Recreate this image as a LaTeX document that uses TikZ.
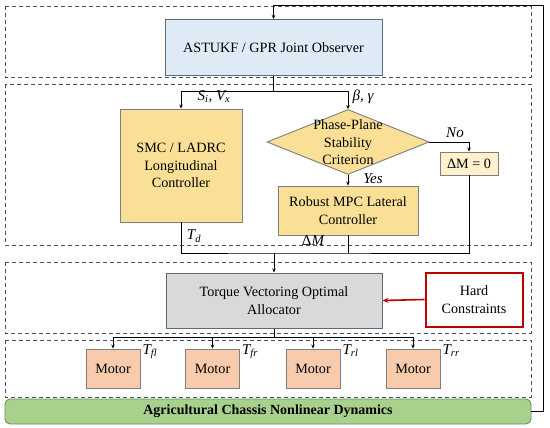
\documentclass[tikz,border=0pt]{standalone}
\usepackage{fontspec}
\setmainfont{Liberation Serif}
\usetikzlibrary{shapes.geometric,arrows.meta,calc}
\definecolor{obsfill}{HTML}{DEEBF7}
\definecolor{obsdraw}{HTML}{5B6B7C}
\definecolor{yelfill}{HTML}{FAE097}
\definecolor{yelpale}{HTML}{FFF2CC}
\definecolor{boxgray}{HTML}{7F7F7F}
\definecolor{allocfill}{HTML}{D9D9D9}
\definecolor{motfill}{HTML}{F8CBAD}
\definecolor{grnfill}{HTML}{A9D18E}
\definecolor{grndraw}{HTML}{6F8F5E}
\definecolor{hardred}{HTML}{C00000}
\definecolor{dashcol}{HTML}{44546A}
\newcommand{\sbi}[1]{\textsubscript{\itshape #1}}
\begin{document}
\begin{tikzpicture}[x=1pt,y=-1pt,
  every node/.style={font=\fontsize{14.2}{17.5}\selectfont, inner sep=0pt, align=center},
  blk/.style={draw=boxgray, line width=0.9pt},
  grp/.style={draw=dashcol, line width=0.9pt, dash pattern=on 4pt off 3pt},
  ln/.style={draw=black, line width=0.8pt},
  arr/.style={ln, -{Stealth[length=4pt,width=3.5pt]}},
  redarr/.style={draw=hardred, line width=1.6pt, -{Stealth[length=6pt,width=5pt]}},
  lbl/.style={font=\fontsize{15}{17}\selectfont\itshape},
  motorbox/.style={blk, fill=motfill, minimum width=54pt, minimum height=39pt}
]
\useasboundingbox (0,0) rectangle (550,428);
% group frames
\draw[grp] (5,6) rectangle (531,77);
\draw[grp] (5,84) rectangle (531,245);
\draw[grp] (5,262) rectangle (531,333);
\draw[grp] (5,340) rectangle (531,397);

% blocks
\node[draw=obsdraw, line width=1pt, fill=obsfill, minimum width=217pt, minimum height=56pt] (obs) at (273.5,47.5) {ASTUKF / GPR Joint Observer};
\node[blk, fill=yelfill, minimum width=122pt, minimum height=113pt] (smc) at (181,165.5) {SMC / LADRC\\Longitudinal\\Controller};
\node[blk, fill=yelfill, diamond, minimum width=162pt, minimum height=65pt] (dia) at (348,142) {};
\node (diat) at (348,142.5) {Phase-Plane\\Stability\\Criterion};
\node[blk, fill=yelpale, minimum width=58pt, minimum height=23pt] (dm0) at (469,163.5) {ΔM = 0};
\node[blk, fill=yelfill, minimum width=140pt, minimum height=49pt] (mpc) at (348,210.5) {Robust MPC Lateral\\Controller};
\node[draw=obsdraw, line width=1pt, fill=allocfill, minimum width=216pt, minimum height=55pt] (alloc) at (274,300.5) {Torque Vectoring Optimal\\Allocator};
\node[draw=hardred, line width=2pt, fill=white, minimum width=97pt, minimum height=54pt] (hard) at (474,299.5) {Hard\\Constraints};
\node[motorbox] (m1) at (113,368.5) {Motor};
\node[motorbox] (m2) at (212.5,368.5) {Motor};
\node[motorbox] (m3) at (313,368.5) {Motor};
\node[motorbox] (m4) at (413,368.5) {Motor};
\node[draw=grndraw, line width=0.9pt, fill=grnfill, rounded corners=5pt, minimum width=526pt, minimum height=25pt, font=\fontsize{14}{16}\selectfont\bfseries] (grn) at (268,411.5) {Agricultural Chassis Nonlinear Dynamics};

% feedback
\coordinate (fbr) at (543,5);
\draw[arr] (grn.east) -| (fbr) -| (obs.north);

% observer split
\coordinate (s1) at (273.5,91);
\draw[ln] (obs.south) -- (s1);
\draw[arr] (s1) -| (smc.north);
\draw[arr] (s1) -| (dia.north);
\draw[arr] (dia.east) -| (dm0.north);
\draw[arr] (dia.south) -- (mpc.north);

% merge to allocator
\coordinate (j) at (274,253);
\draw[ln] (smc.south) |- (j) -| (dm0.south);
\draw[ln] (mpc.south) -- (mpc.south |- j);
\draw[arr] (j) -- (alloc.north);

% allocator to motors
\coordinate (k) at (274,337);
\draw[ln] (alloc.south) -- (k);
\draw[arr] (k) -| (m1.north);
\draw[arr] (k) -| (m2.north);
\draw[arr] (k) -| (m3.north);
\draw[arr] (k) -| (m4.north);
\draw[redarr] (hard.west) -- (alloc.east);

% labels
\node[lbl] (lsv) at (214,97) {S\sbi{i}, V\sbi{x}};
\node[lbl] (lbg) at (363,97) {β, γ};
\node[lbl] (lno) at (455,133) {No};
\node[lbl] (lyes) at (373,179) {Yes};
\node[lbl] (ltd) at (194,236) {T\sbi{d}};
\node[lbl] (ldm) at (313,241) {\upshape Δ\itshape M};
\node[lbl, anchor=base west] (t1) at ($(m1.north east)+(2,6)$) {T\sbi{fl}};
\node[lbl, anchor=base west] (t2) at ($(m2.north east)+(2,6)$) {T\sbi{fr}};
\node[lbl, anchor=base west] (t3) at ($(m3.north east)+(2,6)$) {T\sbi{rl}};
\node[lbl, anchor=base west] (t4) at ($(m4.north east)+(2,6)$) {T\sbi{rr}};
\end{tikzpicture}
\end{document}
